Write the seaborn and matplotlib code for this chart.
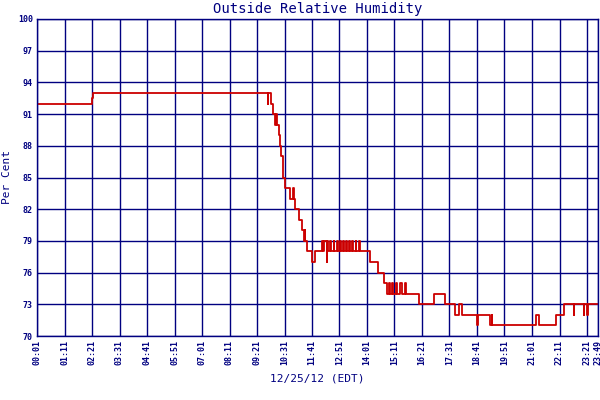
import matplotlib
matplotlib.use("Agg")
import matplotlib.pyplot as plt
import seaborn as sns
import pandas as pd

# minutes since midnight and humidity (%), step data
minutes = [1, 141, 143, 588, 590, 596, 602, 608, 610, 612, 614, 618, 620, 623, 626, 628, 633,
           645, 652, 654, 659, 669, 676, 680, 682, 684, 689, 702, 709, 726,
           730, 732, 738, 740, 742, 748, 750, 756, 758, 764, 766, 772, 774, 780, 782,
           788, 790, 796, 798, 804, 806, 812, 814, 820, 822, 827,
           849, 868, 885, 893, 897, 900, 905, 908, 915, 918, 925, 929, 938, 940, 944,
           974, 1012, 1039, 1064, 1076, 1083, 1119, 1121, 1124, 1127, 1155, 1158, 1160,
           1268, 1271, 1279, 1322, 1342, 1367, 1369, 1393, 1394, 1400, 1404, 1429]
humidity = [92, 92.5, 93, 92, 93, 92, 91, 90, 91, 90, 90, 89, 88, 87, 86, 85, 84,
            83, 84, 83, 82, 81, 80, 79, 80, 79, 78, 77, 78, 79,
            78, 79, 77, 79, 78, 79, 78, 79, 78, 79, 78, 79, 78, 79, 78,
            79, 78, 79, 78, 79, 78, 79, 78, 79, 78, 78,
            77, 76, 75, 74, 75, 74, 75, 74, 75, 74, 75, 74, 75, 74, 74,
            73, 74, 73, 72, 73, 72, 72, 71, 72, 72, 71, 72, 71,
            71, 72, 71, 72, 73, 72, 73, 72, 73, 72, 73, 73]
tick_minutes = [1 + 70 * k for k in range(21)] + [1429]
tick_labels = [f"{m // 60:02d}:{m % 60:02d}" for m in tick_minutes]

df = pd.DataFrame({"t": minutes, "v": humidity})
navy = "#000080"
sns.set_theme(style="white")
plt.rcParams["font.family"] = ["DejaVu Sans Mono"]

fig = plt.figure(figsize=(6, 4), dpi=100)
ax = fig.add_axes([37 / 600, 1 - 336 / 400, 561 / 600, 317 / 400])
sns.lineplot(data=df, x="t", y="v", ax=ax, color="#cc0000", linewidth=1.3,
             drawstyle="steps-post", label="Relative Humidity")
ax.set_xlim(1, 1429)
ax.set_ylim(70, 100)
ax.set_yticks(range(70, 101, 3))
ax.set_xticks(tick_minutes)
ax.set_xticklabels(tick_labels, rotation=90, fontsize=6, color=navy, fontweight="bold")
ax.tick_params(axis="y", labelsize=6, colors=navy)
for lab in ax.get_yticklabels():
    lab.set_fontweight("bold")
ax.tick_params(length=0, pad=3)
ax.grid(True, color=navy, linewidth=1)
for s in ax.spines.values():
    s.set_color(navy)
    s.set_linewidth(1)
ax.set_xlabel("12/25/12 (EDT)", color=navy, fontsize=8, labelpad=6)
ax.set_ylabel("Per Cent", color=navy, fontsize=8)
ax.set_title("Outside Relative Humidity", color=navy, fontsize=10, pad=4)
ax.legend(loc="upper center", bbox_to_anchor=(0.5, -0.235), frameon=False, fontsize=6,
          handlelength=1.5, labelcolor=navy, borderpad=0.1)
fig.savefig("out.png", dpi=100)
